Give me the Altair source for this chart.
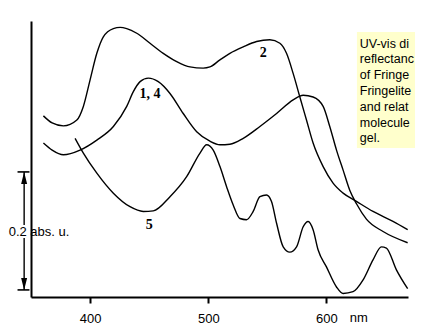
import altair as alt
import pandas as pd

# ---- data (wavelength nm, absorbance) ----
c2_nm = [360.5, 367.9, 377.4, 388.8, 394.3, 400.0, 405.7, 411.2, 419.7, 425.4,
         431.0, 439.5, 450.7, 461.9, 473.3, 484.5, 495.7, 501.4, 509.9, 518.3,
         529.6, 540.9, 552.1, 560.6, 566.2, 571.8, 577.5, 583.1, 588.7, 597.2,
         605.6, 614.1, 625.4, 639.4, 656.3, 668.7]
c2_abs = [0.307, 0.295, 0.290, 0.300, 0.323, 0.368, 0.413, 0.441, 0.455, 0.457,
          0.455, 0.447, 0.430, 0.413, 0.399, 0.390, 0.388, 0.390, 0.402, 0.413,
          0.424, 0.433, 0.436, 0.430, 0.413, 0.379, 0.339, 0.300, 0.261, 0.221,
          0.193, 0.176, 0.162, 0.145, 0.128, 0.114]

c14_nm = [360.5, 367.9, 377.4, 391.5, 405.7, 419.7, 431.0, 436.6, 442.3, 449.3,
          457.7, 467.6, 478.8, 490.2, 501.4, 509.9, 518.3, 529.6, 543.7, 557.8,
          571.8, 580.3, 588.7, 597.2, 602.8, 608.5, 614.1, 619.7, 625.4, 633.8,
          647.9, 668.7]
c14_abs = [0.261, 0.249, 0.241, 0.249, 0.266, 0.289, 0.323, 0.348, 0.365, 0.371,
           0.365, 0.345, 0.311, 0.280, 0.264, 0.258, 0.259, 0.269, 0.289, 0.311,
           0.334, 0.342, 0.339, 0.323, 0.289, 0.249, 0.215, 0.181, 0.158, 0.132,
           0.111, 0.092]

c5_nm = [387.3, 394.3, 405.7, 419.7, 433.8, 445.0, 453.5, 467.6, 481.7, 493.0,
         498.6, 504.2, 509.9, 515.5, 521.1, 526.8, 532.4, 538.0, 543.7, 549.3,
         553.5, 557.8, 563.4, 569.0, 574.7, 580.3, 584.5, 588.7, 592.9, 600.0,
         608.5, 614.1, 622.5, 631.0, 639.4, 646.5, 650.7, 659.2, 668.7]
c5_abs = [0.269, 0.244, 0.210, 0.176, 0.153, 0.145, 0.146, 0.170, 0.204, 0.244,
          0.258, 0.249, 0.221, 0.187, 0.156, 0.133, 0.131, 0.145, 0.170, 0.173,
          0.162, 0.125, 0.085, 0.076, 0.085, 0.119, 0.128, 0.114, 0.080, 0.051,
          0.017, 0.006, 0.009, 0.029, 0.063, 0.085, 0.083, 0.046, 0.014]

curve_labels = ["2", "1, 4", "5"]
label_nm = [546.5, 450.7, 450.1]
label_abs = [0.413, 0.344, 0.122]

tick_values = [400, 500, 600]
caption_lines = ["UV-vis di", "reflectanc", "of Fringe", "Fringelite",
                 "and relat", "molecule", "gel."]
scale_text = "0.2 abs. u."
scale_bar = [0.012, 0.212]  # 0.2 absorbance units

X_DOMAIN = [350, 669]
Y_DOMAIN = [0, 0.4678]

rows = []
for name, xs_, ys_ in [("2", c2_nm, c2_abs), ("1,4", c14_nm, c14_abs), ("5", c5_nm, c5_abs)]:
    for a, b in zip(xs_, ys_):
        rows.append({"series": name, "nm": a, "abs": b})
df = pd.DataFrame(rows)

xs = alt.Scale(domain=X_DOMAIN, nice=False, zero=False)
ys = alt.Scale(domain=Y_DOMAIN, nice=False, zero=False)

lines = alt.Chart(df).mark_line(interpolate="monotone", color="black", strokeWidth=1.4).encode(
    x=alt.X("nm:Q", scale=xs, axis=alt.Axis(values=tick_values, title=None, grid=False,
                                             tickSize=6, tickWidth=2, tickColor="black",
                                             domainWidth=2, domainColor="black",
                                             labelFontSize=13, labelFont="Liberation Sans",
                                             labelColor="black", labelPadding=9)),
    y=alt.Y("abs:Q", scale=ys, axis=alt.Axis(labels=False, ticks=False, title=None, grid=False,
                                              domainWidth=2, domainColor="black")),
    detail="series:N",
)

lab_df = pd.DataFrame({"t": curve_labels, "nm": label_nm, "abs": label_abs})
labels = alt.Chart(lab_df).mark_text(font="Liberation Serif", fontWeight="bold", fontSize=14,
                                     color="black", baseline="middle", align="center").encode(
    x=alt.X("nm:Q", scale=xs), y=alt.Y("abs:Q", scale=ys), text="t:N")

# caption box (runs to the page edge)
box_df = pd.DataFrame({"x": [625.8], "x2": [690.0], "y": [0.449], "y2": [0.2525]})
box = alt.Chart(box_df).mark_rect(color="#FFFFCC").encode(
    x=alt.X("x:Q", scale=xs), x2="x2:Q", y=alt.Y("y:Q", scale=ys), y2="y2:Q")

cap_df = pd.DataFrame({"t": ["\n".join(caption_lines)], "x": [628.2], "y": [0.4398]})
caption = alt.Chart(cap_df).mark_text(align="left", baseline="top", lineBreak="\n", lineHeight=15.8,
                                      font="Liberation Sans", fontSize=12.5, color="black").encode(
    x=alt.X("x:Q", scale=xs), y=alt.Y("y:Q", scale=ys), text="t:N")

# scale bar
bar_x = 344.2
seg_df = pd.DataFrame({"x": [bar_x, bar_x], "y": [scale_bar[1], 0.100], "y2": [0.122, scale_bar[0]]})
segs = alt.Chart(seg_df).mark_rule(color="black", strokeWidth=1.4).encode(
    x=alt.X("x:Q", scale=xs), y=alt.Y("y:Q", scale=ys), y2="y2:Q")
cap_rule_df = pd.DataFrame({"x": [338.6, 338.6], "x2": [348.7, 348.7], "y": scale_bar})
caps = alt.Chart(cap_rule_df).mark_rule(color="black", strokeWidth=1.6).encode(
    x=alt.X("x:Q", scale=xs), x2="x2:Q", y=alt.Y("y:Q", scale=ys))
up_df = pd.DataFrame({"x": [bar_x], "y": [0.2017]})
up = alt.Chart(up_df).mark_point(shape="M0,-1L-0.5,1L0.5,1Z", filled=True, size=144,
                                 color="black", opacity=1).encode(
    x=alt.X("x:Q", scale=xs), y=alt.Y("y:Q", scale=ys))
dn_df = pd.DataFrame({"x": [bar_x], "y": [0.022]})
dn = alt.Chart(dn_df).mark_point(shape="M0,1L-0.5,-1L0.5,-1Z", filled=True, size=144,
                                 color="black", opacity=1).encode(
    x=alt.X("x:Q", scale=xs), y=alt.Y("y:Q", scale=ys))
st_df = pd.DataFrame({"t": [scale_text], "x": [331.1], "y": [0.110]})
stext = alt.Chart(st_df).mark_text(align="left", baseline="middle", font="Liberation Sans",
                                   fontSize=13, color="black").encode(
    x=alt.X("x:Q", scale=xs), y=alt.Y("y:Q", scale=ys), text="t:N")

nm_df = pd.DataFrame({"t": ["nm"], "x": [627.3], "y": [-0.0429]})
nm_text = alt.Chart(nm_df).mark_text(align="center", baseline="alphabetic", font="Liberation Sans",
                                     fontSize=13, color="black").encode(
    x=alt.X("x:Q", scale=xs), y=alt.Y("y:Q", scale=ys), text="t:N")

chart = alt.layer(lines, labels, box, caption, segs, caps, up, dn, stext, nm_text).properties(
    width=377, height=276,
    autosize=alt.AutoSizeParams(type="none"),
    padding={"left": 23, "top": 13, "right": 7, "bottom": 29},
    background="white",
).configure_view(stroke=None)

chart.save("out.html", embed_options={"renderer": "svg", "actions": False})
